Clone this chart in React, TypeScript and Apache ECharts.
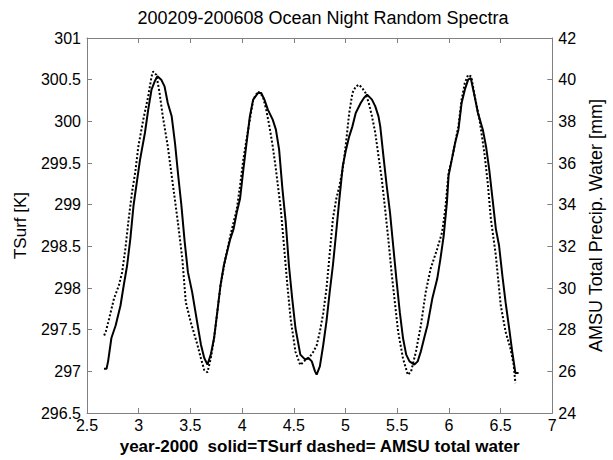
import React, { useEffect, useRef } from "react";
import * as echarts from "echarts";

const titleText = "200209-200608 Ocean Night Random Spectra";
const xAxisName = "year-2000  solid=TSurf dashed= AMSU total water";
const leftAxisName = "TSurf [K]";
const rightAxisName = "AMSU Total Precip. Water [mm]";

const tsurfX = [
  2.664, 2.689, 2.704, 2.736, 2.777, 2.824, 2.855, 2.888, 2.919, 2.95, 2.982, 3.013, 3.06, 3.092, 3.124, 3.155, 3.181,
  3.218, 3.25, 3.281, 3.319, 3.351, 3.382, 3.413, 3.445, 3.476, 3.517, 3.564, 3.602, 3.634, 3.665, 3.697, 3.729, 3.76,
  3.791, 3.823, 3.854, 3.886, 3.918, 3.949, 3.98, 4.012, 4.043, 4.075, 4.107, 4.154, 4.185, 4.216, 4.249, 4.296, 4.327,
  4.358, 4.39, 4.422, 4.453, 4.485, 4.516, 4.563, 4.611, 4.642, 4.674, 4.705, 4.721, 4.752, 4.784, 4.816, 4.847, 4.878,
  4.91, 4.941, 4.973, 5.005, 5.036, 5.067, 5.099, 5.147, 5.178, 5.209, 5.256, 5.288, 5.319, 5.336, 5.367, 5.398, 5.43,
  5.461, 5.492, 5.525, 5.556, 5.587, 5.619, 5.666, 5.698, 5.729, 5.761, 5.792, 5.839, 5.887, 5.918, 5.95, 5.981, 5.997,
  6.028, 6.06, 6.092, 6.123, 6.154, 6.186, 6.211, 6.249, 6.281, 6.328, 6.359, 6.39, 6.422, 6.454, 6.485, 6.517, 6.548,
  6.579, 6.612, 6.643, 6.674,
];
const tsurfY = [
  297.03, 297.03, 297.12, 297.4, 297.55, 297.79, 298.03, 298.27, 298.59, 298.99, 299.27, 299.54, 299.86, 300.14, 300.38,
  300.48, 300.54, 300.5, 300.42, 300.22, 300.06, 299.74, 299.35, 298.99, 298.55, 298.19, 297.95, 297.6, 297.32, 297.16,
  297.08, 297.2, 297.4, 297.71, 298.03, 298.27, 298.43, 298.59, 298.71, 298.91, 299.07, 299.42, 299.74, 300.06, 300.26,
  300.34, 300.34, 300.26, 300.14, 300.02, 299.9, 299.66, 299.19, 298.79, 298.27, 297.87, 297.52, 297.2, 297.14, 297.16,
  297.12, 297.0, 296.96, 297.06, 297.31, 297.6, 297.95, 298.27, 298.67, 299.07, 299.46, 299.66, 299.82, 299.94, 300.1,
  300.22, 300.28, 300.32, 300.26, 300.18, 300.06, 299.94, 299.58, 299.23, 298.91, 298.51, 298.11, 297.71, 297.4, 297.2,
  297.12, 297.08, 297.12, 297.24, 297.4, 297.55, 297.87, 298.11, 298.35, 298.63, 299.03, 299.35, 299.54, 299.74, 299.9,
  300.22, 300.38, 300.5, 300.52, 300.3, 300.1, 299.9, 299.7, 299.42, 299.07, 298.71, 298.51, 298.15, 297.83, 297.55,
  297.24, 296.98, 296.98,
];

const waterX = [
  2.666, 2.682, 2.714, 2.761, 2.808, 2.84, 2.871, 2.903, 2.935, 2.966, 2.997, 3.044, 3.092, 3.124, 3.139, 3.171, 3.202,
  3.233, 3.281, 3.328, 3.375, 3.422, 3.455, 3.502, 3.564, 3.602, 3.634, 3.665, 3.697, 3.729, 3.76, 3.791, 3.838, 3.886,
  3.949, 3.98, 4.012, 4.043, 4.075, 4.107, 4.154, 4.201, 4.233, 4.264, 4.296, 4.327, 4.374, 4.405, 4.438, 4.469, 4.516,
  4.563, 4.611, 4.658, 4.689, 4.721, 4.752, 4.784, 4.816, 4.847, 4.878, 4.91, 4.941, 4.973, 5.005, 5.036, 5.067, 5.099,
  5.13, 5.162, 5.194, 5.225, 5.256, 5.288, 5.319, 5.351, 5.383, 5.414, 5.445, 5.477, 5.509, 5.556, 5.603, 5.634, 5.681,
  5.729, 5.776, 5.823, 5.887, 5.934, 5.965, 5.997, 6.028, 6.06, 6.092, 6.123, 6.154, 6.186, 6.217, 6.249, 6.296, 6.343,
  6.375, 6.406, 6.454, 6.501, 6.548, 6.595, 6.627, 6.643,
];
const waterY = [
  27.72, 27.91, 28.53, 29.49, 30.12, 30.76, 31.88, 33.31, 34.58, 35.54, 36.81, 38.08, 39.2, 40.15, 40.39, 40.23, 39.36,
  38.24, 36.81, 35.06, 33.31, 31.4, 29.33, 28.38, 27.34, 26.62, 26.06, 25.95, 26.62, 27.58, 28.85, 30.12, 31.4, 32.51,
  33.79, 34.9, 36.17, 37.13, 38.08, 39.04, 39.44, 39.2, 38.56, 37.76, 36.81, 35.7, 33.79, 32.03, 30.12, 28.53, 26.94,
  26.3, 26.54, 26.72, 26.94, 27.24, 27.91, 28.77, 29.97, 31.64, 33.31, 34.26, 34.9, 35.7, 36.97, 38.4, 39.36, 39.67,
  39.76, 39.6, 39.36, 38.88, 38.24, 37.45, 36.33, 35.22, 33.79, 32.35, 30.76, 29.33, 27.9, 26.62, 25.83, 25.99, 26.94,
  28.21, 29.81, 30.92, 31.88, 32.67, 33.79, 35.54, 36.17, 36.97, 37.76, 39.04, 39.84, 40.23, 40.15, 39.2, 38.08, 36.49,
  35.06, 33.31, 31.56, 29.17, 27.9, 27.1, 26.3, 25.43,
];

const xMin = 2.5, xMax = 7, xStep = 0.5;
const leftMin = 296.5, leftMax = 301, leftStep = 0.5;
const rightMin = 24, rightMax = 42, rightStep = 2;

const FONT = "Liberation Sans, Arial, sans-serif";
const AXIS_GRAY = "#808080";

export default function App() {
  const ref = useRef<HTMLDivElement>(null);
  useEffect(() => {
    if (!ref.current) return;
    const chart = echarts.init(ref.current, undefined, { renderer: "svg" });
    const tsurf = tsurfX.map((x, i) => [x, tsurfY[i]]);
    const water = waterX.map((x, i) => [x, waterY[i]]);
    const axisLine = { show: true, lineStyle: { color: AXIS_GRAY, width: 1 } };
    const axisTick = { show: true, inside: true, length: 5, lineStyle: { color: AXIS_GRAY } };
    const label = { color: "#000", fontFamily: FONT, fontSize: 16 };
    chart.setOption({
      animation: false,
      backgroundColor: "#fff",
      textStyle: { fontFamily: FONT },
      title: {
        text: titleText,
        left: 323,
        textAlign: "center",
        top: 9,
        padding: 0,
        textStyle: { fontFamily: FONT, fontSize: 18, fontWeight: "normal", color: "#000" },
      },
      grid: { left: 87, right: 50, top: 38, bottom: 45, containLabel: false },
      xAxis: [
        {
          type: "value",
          min: xMin,
          max: xMax,
          interval: xStep,
          position: "bottom",
          axisLine,
          axisTick,
          splitLine: { show: false },
          axisLabel: { ...label, margin: 4 },
          name: xAxisName,
          nameLocation: "middle",
          nameGap: 25,
          nameTextStyle: { fontFamily: FONT, fontSize: 17, fontWeight: "bold", color: "#000" },
        },
        {
          type: "value",
          min: xMin,
          max: xMax,
          interval: xStep,
          position: "top",
          axisLine,
          axisTick,
          splitLine: { show: false },
          axisLabel: { show: false },
        },
      ],
      yAxis: [
        {
          type: "value",
          min: leftMin,
          max: leftMax,
          interval: leftStep,
          position: "left",
          axisLine,
          axisTick,
          splitLine: { show: false },
          axisLabel: { ...label, margin: 6 },
          name: leftAxisName,
          nameLocation: "middle",
          nameGap: 58,
          nameTextStyle: { fontFamily: FONT, fontSize: 17, color: "#000" },
        },
        {
          type: "value",
          min: rightMin,
          max: rightMax,
          interval: rightStep,
          position: "right",
          axisLine,
          axisTick,
          splitLine: { show: false },
          axisLabel: { ...label, margin: 6 },
          name: rightAxisName,
          nameLocation: "middle",
          nameGap: 30,
          nameRotate: 90,
          nameTextStyle: { fontFamily: FONT, fontSize: 18, color: "#000" },
        },
      ],
      series: [
        {
          type: "line",
          name: "TSurf",
          xAxisIndex: 0,
          yAxisIndex: 0,
          data: tsurf,
          showSymbol: false,
          symbol: "none",
          lineStyle: { color: "#000", width: 2 },
        },
        {
          type: "line",
          name: "AMSU",
          xAxisIndex: 0,
          yAxisIndex: 1,
          data: water,
          showSymbol: false,
          symbol: "none",
          lineStyle: { color: "#000", width: 2, type: [2, 2] },
        },
      ],
    });
    return () => chart.dispose();
  }, []);
  return (
    <div
      ref={ref}
      style={{ position: "fixed", left: 0, top: 0, width: 613, height: 460, background: "#fff" }}
    />
  );
}
